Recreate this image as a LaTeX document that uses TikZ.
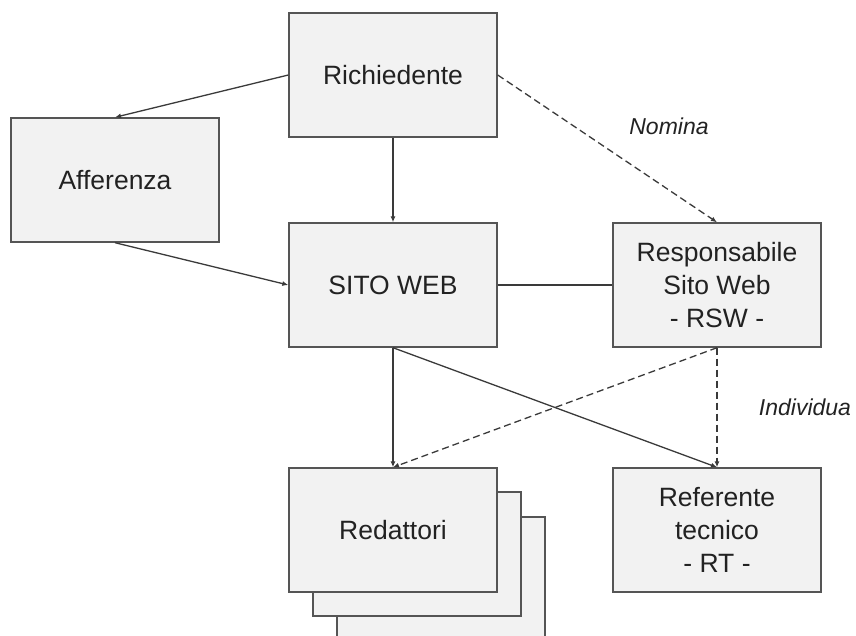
\documentclass[tikz,border=0pt]{standalone}
\usepackage{fontspec}
\setmainfont{Liberation Sans}
\usetikzlibrary{arrows.meta}
\definecolor{boxfill}{HTML}{F2F2F2}
\definecolor{boxline}{HTML}{555555}
\definecolor{conn}{HTML}{3A3A3A}
\definecolor{txt}{HTML}{222222}
\tikzset{
  box/.style={draw=boxline, fill=boxfill, line width=1.4pt, rectangle,
    minimum width=208pt, minimum height=124pt, inner sep=0pt, align=center,
    text=txt, font=\fontsize{26.5}{33}\selectfont},
  link/.style={draw=conn, line width=1.3pt},
  arr/.style={link, -{Latex[length=6pt,width=5pt]}},
  darr/.style={arr, dash pattern=on 7pt off 4pt},
  lbl/.style={text=txt, font=\fontsize{23}{28}\selectfont\itshape, inner sep=0pt}
}
\begin{document}
\begin{tikzpicture}[x=1pt,y=-1pt]
\path[use as bounding box] (0,0) rectangle (856,635);
\clip (0,0) rectangle (856,635);
% boxes
\node[box] (rich) at (393,75) {Richiedente};
\node[box] (aff) at (115,180) {Afferenza};
\node[box] (sito) at (393,285) {SITO WEB};
\node[box] (resp) at (717,285) {Responsabile\\Sito Web\\- RSW -};
\node[box] (red3) at (441,579) {};
\node[box] (red2) at (417,554) {};
\node[box] (red) at (393,530) {Redattori};
\node[box] (ref) at (717,530) {Referente\\tecnico\\- RT -};
% connectors
\draw[arr] (rich.west) -- (aff.north);
\draw[arr] (aff.south) -- (sito.west);
\draw[arr] (rich.south) -- (sito.north);
\draw[darr] (rich.east) -- (resp.north);
\draw[link] (sito.east) -- (resp.west);
\draw[arr] (sito.south) -- (red.north);
\draw[arr] (sito.south) -- (ref.north);
\draw[darr] (resp.south) -- (red.north);
\draw[darr] (resp.south) -- (ref.north);
% labels
\node[lbl] (nomina) at (669,126) {Nomina};
\node[lbl] (individua) at (805,407) {Individua};
\end{tikzpicture}
\end{document}
